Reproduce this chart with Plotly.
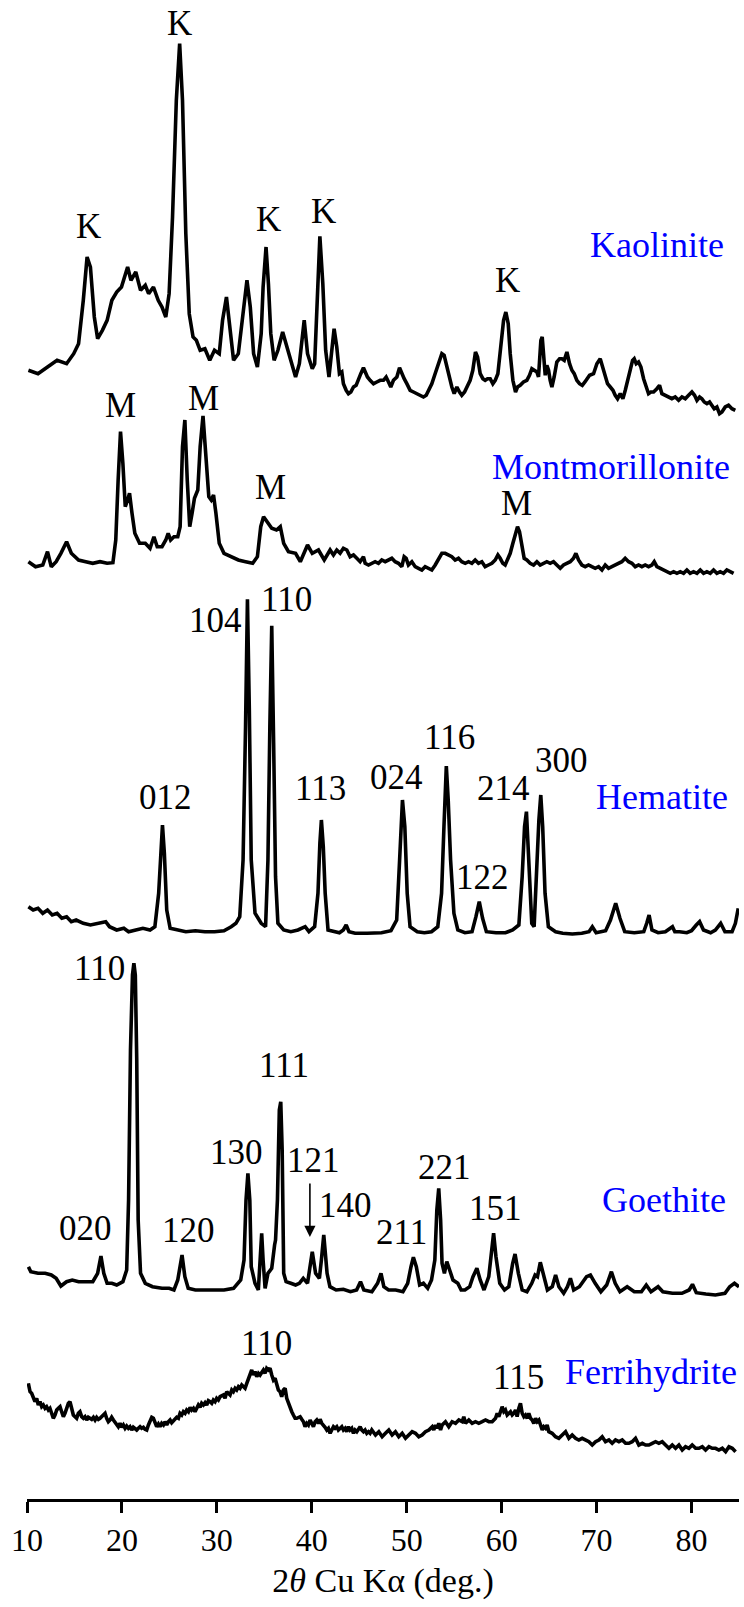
import plotly.graph_objects as go

# ---------------- data (2theta in degrees, intensity in a.u. above each pattern's baseline) -------------
kao_2theta = [10.15,11.16,12.16,13.17,14.17,14.92,15.43,15.93,16.33,16.68,17.09,17.44,17.94,18.44,18.94,19.45,19.95,20.30,20.60,20.95,21.46,21.96,22.46,22.81,23.32,23.82,24.22,24.62,24.97,25.33,25.73,26.08,26.38,26.73,27.09,27.49,27.84,28.24,28.74,29.25,29.75,30.25,30.60,31.01,31.41,31.76,32.26,32.76,33.17,33.52,33.87,34.27,34.67,34.87,35.18,35.43,35.68,36.03,36.43,36.93,37.29,37.79,38.29,38.69,39.05,39.20,39.55,40.05,40.30,40.55,40.85,41.16,41.46,41.81,
              42.11,42.35,42.63,42.91,43.16,43.33,43.62,43.86,44.11,44.39,44.67,44.92,45.16,45.44,45.65,45.86,46.14,46.50,46.85,47.20,47.55,47.83,48.08,48.32,48.60,48.96,49.24,49.48,49.73,50.01,50.36,50.71,51.06,51.41,51.76,52.05,52.29,52.64,52.99,53.35,53.70,53.94,54.22,54.50,54.75,55.00,55.28,55.56,55.80,56.09,56.40,56.68,56.96,57.24,57.46,57.74,58.02,58.26,58.51,58.79,59.07,59.32,59.60,59.91,60.20,60.44,60.69,60.90,61.18,61.46,61.67,61.95,62.30,62.65,62.93,63.18,63.43,63.71,63.88,64.13,64.27,64.41,64.59,64.76,64.94,65.11,65.29,65.53,65.81,66.10,66.34,66.59,66.87,67.15,67.40,67.64,67.92,68.20,68.49,68.77,68.98,69.26,69.68,70.03,70.38,70.66,70.91,71.15,71.44,71.72,71.96,72.21,72.49,72.77,73.02,73.26,73.54,73.79,73.96,74.17,74.42,74.67,74.95,75.23,75.47,75.72,76.00,76.35,76.63,76.88,77.23,77.58,77.93,78.28,78.64,78.99,79.34,79.69,80.04,80.32,80.57,80.85,81.09,81.34,81.62,81.90,82.15,82.39,82.67,82.95,83.20,83.55,83.90,84.26,84.61]
kao_int = [46.7,43.3,50,56.7,53.3,63.3,73.3,116.7,160,150,100,78.3,86.7,96.7,116.7,125,130,140,150,136.7,145,126.7,131.7,123.3,130,116.7,110,100,123.3,200,316.7,373.3,316.7,183.3,103.3,80,76.7,66.7,68.3,56.7,66.7,63.3,96.7,120,83.3,56.7,63.3,100,136.7,110,63.3,50,83.3,130,170,133.3,83.3,56.7,66.7,85,73.3,56.7,40,53.3,90,96.7,63.3,48.3,53.3,116.7,180.7,133.3,66.7,40,
           70,88.3,70,43.3,45,33.3,26.7,23.3,25,30,31.7,36.7,43.3,49.3,45,40,36.7,33.3,35,36.7,36.7,40,35,30,36.7,40,49.3,43.3,38.3,33.3,26.7,25,23.3,21.7,20,21.7,26.7,33.3,43.3,53.3,63.3,61.7,50,36.7,30,23.3,30,25,21.7,25,31.7,36.7,46.7,65,60,43.3,38.3,36.7,38.3,38.3,33.3,36.7,43.3,70,96.7,105,93.3,63.3,36.7,25,30,31.7,35,36.7,41.7,48.3,46.7,45,40,76.7,80,60,41.7,51.7,46.7,36.7,30,40,55,58.3,58.3,56.7,65,53.3,46.7,43.3,36.7,33.3,31.7,35,38.3,41.7,43.3,53.3,58.3,50,40,33.3,30,26.7,21.7,18.3,23.3,18.3,26.7,36.7,46.7,56.7,58.3,53.3,55,50,38.3,30,23.3,25,25,28.3,31.7,23.3,21.7,20,18.3,20,16.7,20,18.3,21.7,25,21.7,16.7,20,18.3,15,13.3,15,11.7,8.3,10,3.3,5,10,11.7,8.3,6.7]

mon_2theta = [10.15,10.90,11.66,12.16,12.56,13.07,13.57,14.17,14.67,15.43,16.18,16.93,17.69,18.44,19.05,19.35,19.60,19.85,20.10,20.35,20.60,20.80,21.06,21.36,21.86,22.46,22.96,23.37,23.72,24.22,24.62,24.87,25.13,25.48,25.88,26.13,26.38,26.63,26.88,27.14,27.39,27.64,27.99,28.24,28.54,28.84,29.15,29.40,29.65,29.90,30.25,30.75,31.51,32.26,33.02,33.77,34.27,34.62,34.92,35.28,35.78,36.28,36.68,37.04,37.54,38.29,38.79,39.55,40.05,40.70,41.31,
              41.93,42.28,42.63,42.98,43.33,43.69,44.04,44.39,44.74,45.09,45.44,45.62,45.97,46.32,46.67,47.02,47.37,47.73,48.08,48.43,48.78,49.13,49.48,49.73,49.94,50.18,50.54,50.89,51.24,51.59,51.94,52.29,52.64,53.00,53.35,53.70,54.05,54.40,54.75,55.10,55.45,55.80,56.16,56.51,56.86,57.21,57.56,57.91,58.26,58.61,58.97,59.32,59.60,59.84,60.12,60.37,60.62,60.90,61.18,61.42,61.67,61.88,62.13,62.37,62.65,63.00,63.36,63.71,64.06,64.41,64.76,65.11,65.46,65.81,66.17,66.52,66.87,67.22,67.57,67.82,68.10,68.45,68.80,69.15,69.50,69.85,70.21,70.56,70.91,71.26,71.61,71.96,72.31,72.66,73.01,73.37,73.72,74.07,74.42,74.77,75.12,75.47,75.82,76.07,76.35,76.70,77.05,77.41,77.76,78.11,78.46,78.81,79.16,79.51,79.86,80.21,80.57,80.92,81.27,81.62,81.97,82.32,82.67,83.02,83.37,83.72,84.08,84.43]
mon_int = [18.3,13.3,15,28.3,13.3,18.3,26.7,38.3,26.7,20,18.3,16.7,18.3,16.7,17.3,40,100,148.3,116.7,73.3,80,86.7,66.7,46.7,36.7,36.7,31.7,43.3,33.3,33.3,40,46.7,40,43.3,43.3,53.3,133.3,160,100,53.3,66.7,81.7,90,133.3,164,126.7,83.3,80,85,66.7,36.7,26.7,23.3,20,18.3,16.7,23.3,53.3,63.3,58.3,51.7,50,53.3,36.7,28.3,26.7,18.3,35,26.7,30,20,
           30,25,30,26.7,31.7,30,23.3,25,21.7,18.3,23.3,16.7,15,16.7,18.3,16.7,20,18.3,20,21.7,18.3,16.7,13.3,23.3,21.7,15,18.3,13.3,11.7,10,13.3,11.7,10,15,21.7,26.7,26.7,25,23.3,20,21.7,18.3,16.7,18.3,16.7,20,16.7,18.3,13.3,15,16.7,20,25,21.7,16.7,15,20,26.7,36.7,46.7,53.3,48.3,33.3,21.7,20,16.7,15,18.3,15,16.7,18.3,16.7,18.3,15,11.7,15,16.7,18.3,21.7,26.7,20,15,13.3,15,13.3,11.7,13.3,10,15,11.7,13.3,15,16.7,18.3,21.7,18.3,16.7,13.3,15,13.3,15,13.3,15,18.3,13.3,11.7,10,8.3,6.7,8.3,6.7,8.3,6.7,10,6.7,8.3,6.7,10,6.7,8.3,6.7,10,6.7,8.3,6.7,10,8.3,6.7]

hem_2theta = [10.15,10.65,11.16,11.66,12.16,12.66,13.17,13.67,14.17,14.67,15.18,15.93,16.68,17.44,18.29,18.69,19.45,20.20,20.70,21.46,22.21,22.96,23.47,23.87,24.07,24.27,24.47,24.72,25.08,25.73,26.73,27.74,28.74,29.75,30.75,31.51,32.01,32.41,32.76,33.02,33.22,33.42,33.62,34.02,34.67,35.13,35.38,35.58,35.78,35.98,36.18,36.43,37.04,37.79,38.54,39.30,39.70,40.30,40.65,40.85,41.01,41.21,41.41,41.71,42.31,42.91,43.32,43.62,43.92,44.57,45.83,47.34,48.34,48.94,49.25,49.55,49.80,50.05,50.35,51.11,51.86,52.61,53.27,53.67,53.92,54.17,54.37,54.62,54.97,55.38,56.13,56.88,57.29,57.64,57.99,58.39,59.40,60.40,61.16,61.81,62.16,62.41,62.61,62.81,63.17,63.42,63.62,63.92,64.12,64.32,64.57,64.92,65.68,66.43,67.44,68.44,69.20,69.55,69.95,70.95,71.46,72.01,72.46,72.96,73.97,74.97,75.28,75.53,75.83,76.48,77.24,77.74,77.99,78.24,78.74,79.50,80.00,80.50,80.85,81.26,82.01,82.51,83.07,83.52,84.27,84.62,84.92]
hem_int = [33.3,30,31.7,26.7,30,25,26.7,21.7,23.3,18.3,20,16.7,15,16.7,18.3,13.3,10,11.7,8.3,10,11.7,10,13.3,46.7,90,115,86.7,30,11.7,10,8.3,9.3,8.3,8.3,9.3,13.3,16.7,23.3,80,213.3,340.7,230,80,26.7,16.7,13.3,80,213.3,314.3,196.7,63.3,16.7,10,8.3,10,13.3,8.3,13.3,46.7,96.7,120,93.3,46.7,10,8.3,7.3,10,15,8.3,6.7,6.7,7.3,9.3,20,80,140,113.3,46.7,13.3,8.3,7.3,8.3,13.3,46.7,113.3,174,140,80,26.7,10,7.3,8.3,23.3,38.3,21.7,8.3,7.3,7.3,10,15,63.3,113.3,128.3,86.7,16.7,13.3,63.3,120,145,113.3,46.7,13.3,8.3,6.7,6,6.7,8.3,13.3,7.3,9.3,20,36.7,21.7,8.3,7.3,8.3,16.7,25,10,7.3,8.3,11.7,13.3,8.3,8.3,7.3,9.3,15,18.3,10,7.3,10,16.7,8.3,8.3,16.7,31.7]

goe_2theta = [10.15,10.40,11.16,11.91,12.56,13.07,13.57,14.17,14.77,15.43,16.18,16.93,17.44,17.79,18.09,18.44,18.94,19.45,20.10,20.50,20.70,20.90,21.11,21.26,21.41,21.56,21.71,21.96,22.46,23.22,24.22,24.97,25.48,25.88,26.33,26.63,26.98,27.74,28.74,29.75,30.75,31.76,32.51,32.86,33.07,33.27,33.47,33.62,34.02,34.37,34.57,34.72,34.87,35.08,35.38,35.78,36.08,36.18,36.38,36.58,36.73,36.88,37.04,37.29,37.79,38.29,38.69,39.10,39.55,39.80,40.05,40.40,40.80,41.01,41.26,41.61,41.91,42.56,43.32,44.07,44.72,45.13,45.48,46.33,46.93,47.29,47.59,48.09,48.84,49.60,50.10,50.45,50.70,51.01,51.36,51.76,52.21,52.61,52.96,53.17,53.37,53.57,53.72,53.97,54.22,54.52,54.87,55.38,55.73,56.13,56.63,56.98,57.39,57.74,58.14,58.64,58.89,59.15,59.40,59.80,60.30,60.75,61.16,61.41,61.76,62.16,62.66,63.17,63.52,63.77,64.07,64.42,64.82,65.33,65.68,66.03,66.53,66.93,67.24,67.59,68.19,68.94,69.35,69.85,70.45,71.06,71.56,71.96,72.46,73.22,73.97,74.72,75.23,75.73,76.48,76.98,77.99,78.99,79.75,80.10,80.50,81.51,82.51,83.52,84.02,84.52,85.00]
goe_int = [33.3,28.3,26.7,26.7,25,21.7,14,18.3,20,18.3,18.3,18.3,26.7,44,26.7,16.7,16.7,15,18.3,30,100,250,325,336.7,325,240,80,26.7,16.7,13.3,11.7,11.7,10,20,45,23.3,11.7,10,10,10,10,11.7,20,40,100,126.7,100,33.3,16.7,10,40,66.7,40,11.7,26.7,31.7,55,60,100,190,198.3,150,26.7,18.3,16.7,15,16.7,21.7,16.7,33.3,48.3,26.7,21.7,40,65,26.7,13.3,10,10.7,8.3,10,18.3,10,8.3,16.7,26.7,13.3,10,10,8.3,16.7,33.3,42.7,33.3,15,16.7,11.7,20,40,90,111.7,80,36.7,26.7,38.3,30,20,16.7,10,10,13.3,23.3,31.7,20,10,23.3,43.3,66.7,43.3,16.7,10,13.3,36.7,46,26.7,10,8.3,16.7,25,23.3,37.7,23.3,10,13.3,25,13.3,6.7,13.3,21.7,10,13.3,23.3,25,16.7,8.3,15,28.3,16.7,8.3,13.3,8.3,8.3,15,8.3,13.3,8.3,6.7,6.7,10,15.7,7.3,6,5,6.7,13.3,16.7,13.3]

fer_2theta = [10.14,10.32,10.49,10.67,10.84,11.02,11.19,11.37,11.55,11.72,11.90,12.07,12.25,12.42,12.60,12.77,12.95,13.13,13.30,13.48,13.65,13.83,14.00,14.18,14.36,14.53,14.71,14.88,15.06,15.23,15.41,15.58,15.76,15.94,16.11,16.29,16.46,16.64,16.81,16.99,17.17,17.34,17.52,17.69,17.87,18.04,18.22,18.39,18.57,18.75,18.92,19.10,19.27,19.45,19.62,19.80,19.97,20.15,20.33,20.50,20.68,20.85,21.03,21.20,21.38,21.56,21.73,21.91,22.08,22.26,22.43,22.61,22.79,22.96,23.14,23.31,23.49,23.66,23.84,24.01,24.19,24.37,24.54,24.72,24.89,25.07,25.24,25.42,25.59,25.77,25.95,26.12,26.30,26.47,26.65,26.82,27.00,27.18,27.35,27.53,27.70,27.88,28.05,28.23,28.40,28.58,28.76,28.93,29.11,29.28,29.46,29.63,29.81,29.98,30.16,30.34,30.51,30.69,30.86,31.04,31.21,31.39,31.57,31.74,31.92,32.09,32.27,32.44,32.62,32.79,32.97,33.15,33.32,33.50,33.67,33.85,34.02,34.20,34.38,34.55,34.73,34.90,35.08,35.25,35.43,35.60,35.78,35.96,36.13,36.31,36.48,36.66,36.83,37.01,37.19,37.36,37.54,37.71,37.89,38.06,38.24,38.41,38.59,38.77,38.94,39.12,39.29,39.47,39.64,39.82,39.99,40.17,40.35,40.52,40.70,40.87,41.05,41.22,41.40,41.58,41.75,41.93,42.10,42.28,42.45,42.63,42.80,42.98,43.16,43.33,43.51,43.68,43.86,44.03,44.21,44.39,44.56,44.74,44.91,45.09,45.26,45.44,45.61,45.79,45.97,46.14,46.32,
              46.71,47.06,47.41,47.76,48.11,48.46,48.81,49.16,49.52,49.87,50.22,50.57,50.92,51.27,51.62,51.97,52.33,52.68,52.85,53.03,53.20,53.38,53.56,53.73,54.08,54.43,54.78,55.14,55.49,55.84,56.01,56.19,56.54,56.89,57.24,57.59,57.95,58.30,58.65,59.00,59.35,59.53,59.70,59.88,60.05,60.23,60.40,60.58,60.76,60.93,61.11,61.28,61.46,61.63,61.81,61.98,62.16,62.34,62.51,62.69,62.86,63.04,63.21,63.39,63.57,63.74,63.92,64.09,64.27,64.44,64.62,64.79,64.97,65.32,65.67,66.02,66.37,66.73,67.08,67.43,67.78,68.13,68.48,68.83,69.19,69.54,69.89,70.24,70.59,70.94,71.29,71.64,71.99,72.35,72.70,73.05,73.40,73.75,74.10,74.45,74.81,75.16,75.51,75.86,76.21,76.56,76.91,77.26,77.62,77.97,78.32,78.67,79.02,79.37,79.72,80.07,80.43,80.78,81.13,81.48,81.83,82.18,82.53,82.88,83.24,83.59,83.94,84.29,84.64]
fer_int = [76.7,68.3,66.7,63.3,58.3,61.7,55,58.3,53.3,55,51.7,53.3,50,51.7,46.7,41.7,45,50,51.7,53.3,48.3,43.3,46.7,53.3,56.7,58.3,51.7,45,43.3,41.7,46.7,48.3,43.3,41.7,43.3,40,42.7,41.7,40.7,42.7,40,42.7,40.7,41.7,43.3,44,46.7,41.7,38.3,40,42.7,40,37.3,35,33.3,36.7,32.7,35,31.7,34,31.7,33.3,30,32.7,31.7,30,31.7,33.3,31.7,32.7,30.7,30,35,40,42.7,41.7,37.3,33.3,36,33.3,36.7,35,38.3,35,38.3,40,37.3,39.3,40.7,42.7,41.7,46.7,45,48.3,46.7,50,48.3,52.7,50,51.7,48.3,51.7,55,52.7,56.7,55,57.3,55,59.3,58.3,56.7,60,58.3,61.7,60,63.3,64,65,61.7,68.3,66.7,65,70,68.3,71.7,70,73.3,71.7,75,73.3,71.7,76.7,81.7,86.7,90,85,88.3,83.3,86.7,85,88.3,90,86.7,91.7,90,91.7,85,80,81.7,75,70,68.3,63.3,70,71.7,61.7,56.7,51.7,48.3,45,41.7,41.7,42.7,43.3,40.7,38.3,33.3,36.7,35,40,36.7,33.3,38.3,40,36.7,40.7,36.7,35,32.7,30,31.7,26.7,30,33.3,31.7,33.3,30,31.7,33.3,30,31.7,28.3,33.3,30,31.7,26.7,30,28.3,31.7,33.3,30,28.3,30,26.7,28.3,26.7,30,
           25,28.3,23.3,26.7,30,25,28.3,23.3,26.7,21.7,25,28.3,26.7,23.3,25,28.3,30,33.3,30,35,31.7,36.7,30,35,38.3,33.3,38.3,36.7,40,38.3,43.3,36.7,40,36.7,38.3,36.7,38.3,40,38.3,38.3,41.7,46.7,43.3,50,53.3,48.3,50,45,46.7,48.3,45,46.7,50,43.3,51.7,56.7,46.7,43.3,45,41.7,46.7,41.7,40,36.7,41.7,38.3,40,35,30,33.3,31.7,35,28.3,26.7,23.3,21.7,25,28.3,21.7,25,21.7,20,21.7,20,18.3,15,18.3,20,23.3,18.3,20,16.7,20,18.3,20,16.7,16.7,18.3,21.7,15,16.7,15,15,16.7,18.3,16.7,18.3,15,11.7,15,11.7,15,10,13.3,11.7,15,11.7,11.7,13.3,10,13.3,11.7,11.7,10,11.7,8.3,13.3,11.7,8.3]

x_ticks = [10, 20, 30, 40, 50, 60, 70, 80]
x_title = "2<i>θ</i> Cu Kα (deg.)"

patterns = [
    ("Kaolinite", kao_2theta, kao_int),
    ("Montmorillonite", mon_2theta, mon_int),
    ("Hematite", hem_2theta, hem_int),
    ("Goethite", goe_2theta, goe_int),
    ("Ferrihydrite", fer_2theta, fer_int),
]

# peak labels: (text, 2theta, level above the pattern baseline)
peak_labels = {
    "Kaolinite": [("K", 16.5, 191), ("K", 26.1, 394), ("K", 35.4, 198), ("K", 41.2, 206), ("K", 60.65, 137)],
    "Montmorillonite": [("M", 19.8, 175), ("M", 28.6, 182), ("M", 35.7, 93), ("M", 61.6, 77)],
    "Hematite": [("012", 24.6, 143), ("104", 29.9, 320), ("110", 37.3, 341), ("113", 40.9, 152),
                 ("024", 48.9, 163), ("116", 54.5, 203), ("122", 58.0, 63), ("214", 60.2, 152),
                 ("300", 66.3, 180)],
    "Goethite": [("020", 16.2, 72), ("110", 17.6, 332), ("120", 27.0, 70), ("130", 32.1, 148),
                 ("111", 37.1, 235), ("121", 40.2, 140), ("140", 43.6, 95), ("211", 49.4, 68),
                 ("221", 54.0, 133), ("151", 59.4, 92)],
    "Ferrihydrite": [("110", 35.2, 117), ("115", 61.8, 83)],
}
# phase names: (right end in 2theta, level above baseline)
name_pos = {"Kaolinite": (83.6, 172), "Montmorillonite": (84.3, 113), "Hematite": (84.0, 143),
            "Goethite": (83.8, 100), "Ferrihydrite": (85.0, 88)}

# ---------------- layout constants ----------------
W, H = 744, 1607
M_L, M_R, M_T, M_B = 27, 5, 0, 108
PLOT_H = H - M_T - M_B
offsets = {"Kaolinite": 1082, "Montmorillonite": 919, "Hematite": 559, "Goethite": 199, "Ferrihydrite": 39}
SERIF = "Liberation Serif, Times New Roman, serif"

fig = go.Figure()
annotations = []
for name, tt, ii in patterns:
    off = offsets[name]
    fig.add_trace(go.Scatter(x=tt, y=[v + off for v in ii], mode="lines",
                             line=dict(color="black", width=3.6), showlegend=False,
                             hoverinfo="skip"))
    for txt, xx, lev in peak_labels[name]:
        annotations.append(dict(x=xx, y=lev + off, text=txt, showarrow=False,
                                xref="x", yref="y", font=dict(family=SERIF, size=35, color="black")))
    nx, nl = name_pos[name]
    annotations.append(dict(x=nx, y=nl + off, text=name, showarrow=False, xanchor="right",
                            xref="x", yref="y", font=dict(family=SERIF, size=36, color="#0000ff")))

# arrow for goethite 121
annotations.append(dict(x=39.8, y=63 + offsets["Goethite"], ax=39.8, ay=118 + offsets["Goethite"],
                        xref="x", yref="y", axref="x", ayref="y", text="", showarrow=True,
                        arrowhead=2, arrowsize=1.4, arrowwidth=1.6, arrowcolor="black"))

fig.update_layout(
    width=W, height=H, margin=dict(l=M_L, r=M_R, t=M_T, b=M_B),
    paper_bgcolor="white", plot_bgcolor="white",
    annotations=annotations,
    xaxis=dict(range=[10, 85], tickvals=x_ticks, ticks="outside", ticklen=11, tickwidth=2.5,
               tickcolor="black", showline=True, linecolor="black", linewidth=2.5,
               showgrid=False, zeroline=False,
               tickfont=dict(family=SERIF, size=32, color="black"),
               title=dict(text=x_title, font=dict(family=SERIF, size=34, color="black"), standoff=12)),
    yaxis=dict(range=[0, PLOT_H], visible=False, fixedrange=True),
)
fig.write_html("out.html")
